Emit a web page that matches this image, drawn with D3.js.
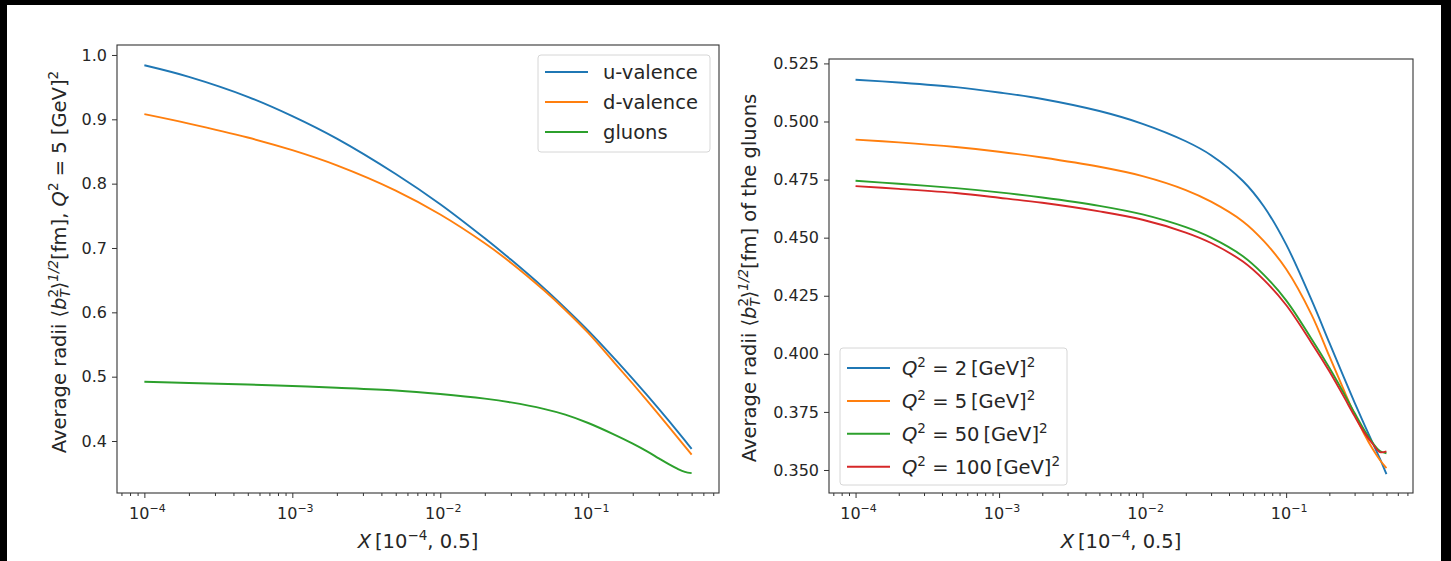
<!DOCTYPE html>
<html><head><meta charset="utf-8">
<script src="https://cdn.jsdelivr.net/npm/d3@7"></script>
<style>
body{margin:0;background:#000;}
svg{display:block}
text{font-family:"DejaVu Sans",sans-serif;fill:#262626}
</style>
</head><body>
<svg id="c" width="1451" height="561"></svg>
<script>
// ---------- data ----------
const xValues  = [1e-4, 2e-4, 5e-4, 1e-3, 2e-3, 5e-3, 1e-2, 2e-2, 3e-2, 5e-2, 0.07, 0.1, 0.15, 0.2, 0.25, 0.3, 0.35, 0.4, 0.45, 0.5];
const uValence = [0.984, 0.966, 0.935, 0.905, 0.870, 0.815, 0.768, 0.715, 0.682, 0.638, 0.6066, 0.5717, 0.5286, 0.4967, 0.4713, 0.4501, 0.4317, 0.4155, 0.4010, 0.3877];
const dValence = [0.908, 0.8934, 0.8717, 0.852, 0.8284, 0.7892, 0.752, 0.7073, 0.6772, 0.6346, 0.6037, 0.568, 0.522, 0.489, 0.4628, 0.4411, 0.4223, 0.4061, 0.3918, 0.3789];
const gluons   = [0.492, 0.4902, 0.4878, 0.4855, 0.4828, 0.4785, 0.4730, 0.4658, 0.4600, 0.4500, 0.4410, 0.4280, 0.4100, 0.3960, 0.3840, 0.3730, 0.3640, 0.3570, 0.3520, 0.3500];

const gQ2_2   = [0.5180, 0.5168, 0.5148, 0.5125, 0.5097, 0.5045, 0.4990, 0.4915, 0.4855, 0.4744, 0.4634, 0.4471, 0.4233, 0.4048, 0.3905, 0.3790, 0.3696, 0.3618, 0.3549, 0.3482];
const gQ2_5   = [0.4922, 0.4910, 0.4890, 0.4870, 0.4845, 0.4805, 0.4765, 0.4705, 0.4655, 0.4570, 0.4485, 0.4365, 0.4170, 0.3990, 0.3850, 0.3739, 0.3655, 0.3591, 0.3543, 0.3508];
const gQ2_50  = [0.4745, 0.4732, 0.4713, 0.4695, 0.4673, 0.4637, 0.4600, 0.4545, 0.4500, 0.4420, 0.4340, 0.4230, 0.4065, 0.3940, 0.3835, 0.3745, 0.3672, 0.3618, 0.3582, 0.3572];
const gQ2_100 = [0.4722, 0.4710, 0.4692, 0.4672, 0.4650, 0.4613, 0.4577, 0.4522, 0.4477, 0.4397, 0.4318, 0.4210, 0.4048, 0.3925, 0.3820, 0.3732, 0.3662, 0.3613, 0.3577, 0.3580];

const leftNames   = ["u-valence", "d-valence", "gluons"];
const rightQ2     = [2, 5, 50, 100];
const colors      = ["#1f77b4", "#ff7f0e", "#2ca02c", "#d62728"];
const yTicksLeft  = [0.4, 0.5, 0.6, 0.7, 0.8, 0.9, 1.0];
const yTicksRight = [0.350, 0.375, 0.400, 0.425, 0.450, 0.475, 0.500, 0.525];
const xTickExps   = [-4, -3, -2, -1];

// ---------- drawing ----------
const svg = d3.select("#c");
svg.append("rect").attr("x", 7).attr("y", 5).attr("width", 1434).attr("height", 556).attr("fill", "#fff");

const pad = Math.pow(10, 0.185);
const FS = 19.5, SUP = 13.5, TFS = 16;

function panel(o) {
  const x = d3.scaleLog().domain([1e-4 / pad, 0.5 * pad]).range([o.x0, o.x1]);
  const y = d3.scaleLinear().domain(o.yDomain).range([o.y1, o.y0]);
  const g = svg.append("g");

  const line = d3.line().x((d, i) => x(xValues[i])).y(d => y(d)).curve(d3.curveCatmullRom.alpha(0.5));
  o.series.forEach((s, k) => {
    g.append("path").attr("d", line(s)).attr("fill", "none")
      .attr("stroke", colors[k]).attr("stroke-width", 1.9).attr("stroke-linejoin", "round");
  });

  g.append("rect").attr("x", o.x0).attr("y", o.y0).attr("width", o.x1 - o.x0).attr("height", o.y1 - o.y0)
    .attr("fill", "none").attr("stroke", "#333").attr("stroke-width", 1.1);

  const ya = g.append("g").attr("transform", `translate(${o.x0},0)`)
    .call(d3.axisLeft(y).tickValues(o.yTicks).tickFormat(o.fmt).tickSize(5).tickPadding(5));
  ya.select(".domain").remove();
  ya.selectAll("line").attr("stroke", "#333");
  ya.selectAll("text").attr("font-size", TFS).attr("fill", "#262626").style("font-family", "DejaVu Sans");

  const xa = g.append("g").attr("transform", `translate(0,${o.y1})`)
    .call(d3.axisBottom(x).tickValues(xTickExps.map(e => Math.pow(10, e))).tickFormat("").tickSize(5));
  xa.select(".domain").remove();
  xa.selectAll("line").attr("stroke", "#333");
  const minors = [];
  for (let e = -5; e <= 0; e++) for (let m = 2; m <= 9; m++) {
    const v = m * Math.pow(10, e);
    if (v >= x.domain()[0] && v <= x.domain()[1]) minors.push(v);
  }
  const xm = g.append("g").attr("transform", `translate(0,${o.y1})`)
    .call(d3.axisBottom(x).tickValues(minors).tickFormat("").tickSize(3));
  xm.select(".domain").remove();
  xm.selectAll("line").attr("stroke", "#333");
  xTickExps.forEach(e => {
    const t = g.append("text").attr("x", x(Math.pow(10, e)) + 3).attr("y", o.y1 + 26)
      .attr("text-anchor", "middle").attr("font-size", TFS);
    t.append("tspan").text("10");
    t.append("tspan").attr("font-size", 11).attr("dy", -7).text("\u2212" + Math.abs(e));
  });

  const xl = g.append("text").attr("x", (o.x0 + o.x1) / 2).attr("y", o.y1 + 55)
    .attr("text-anchor", "middle").attr("font-size", FS);
  xl.append("tspan").attr("font-style", "italic").text("X");
  xl.append("tspan").text("\u2009[10");
  xl.append("tspan").attr("font-size", SUP).attr("dy", -8).text("\u22124");
  xl.append("tspan").attr("dy", 8).text(", 0.5]");

  const yl = g.append("text").attr("transform", `translate(${o.ylx},${o.ylc}) rotate(-90)`)
    .attr("text-anchor", "middle").attr("font-size", FS);
  yl.append("tspan").text("Average radii \u27E8");
  yl.append("tspan").attr("font-style", "italic").text("b");
  yl.append("tspan").attr("font-size", SUP).attr("dy", -8).text("2");
  yl.append("tspan").attr("font-size", SUP).attr("font-style", "italic").attr("dx", -8.6).attr("dy", 12).text("T");
  yl.append("tspan").attr("dy", -4).text("\u27E9");
  yl.append("tspan").attr("font-size", SUP).attr("dy", -8).attr("font-style", "italic").text("1/2");
  yl.append("tspan").attr("dy", 8).text("[fm]" + o.ySuffixA);
  if (o.q2) {
    yl.append("tspan").attr("font-style", "italic").text("Q");
    yl.append("tspan").attr("font-size", SUP).attr("dy", -8).text("2");
    yl.append("tspan").attr("dy", 8).text(" = 5 [GeV]");
    yl.append("tspan").attr("font-size", SUP).attr("dy", -8).text("2");
  }

  const L = o.legend;
  g.append("rect").attr("x", L.x).attr("y", L.y).attr("width", L.w).attr("height", L.h).attr("rx", 3)
    .attr("fill", "#fff").attr("fill-opacity", 0.8).attr("stroke", "#d6d6d6");
  L.labels.forEach((lab, k) => {
    const yy = L.y + L.first + k * L.step;
    g.append("line").attr("x1", L.x + 7).attr("x2", L.x + 50).attr("y1", yy).attr("y2", yy)
      .attr("stroke", colors[k]).attr("stroke-width", 2);
    const t = g.append("text").attr("x", L.x + L.tx).attr("y", yy + 7).attr("font-size", FS);
    lab(t);
  });
}

panel({
  x0: 117, x1: 719, y0: 45, y1: 493,
  yDomain: [0.3192, 1.0155], yTicks: yTicksLeft, fmt: d3.format(".1f"),
  series: [uValence, dValence, gluons],
  ylx: 66, ylc: 262, ySuffixA: ", ", q2: true,
  legend: { x: 538, y: 55, w: 172, h: 97, first: 17, step: 30, tx: 65,
    labels: leftNames.map(n => t => t.text(n)) }
});

panel({
  x0: 829, x1: 1413, y0: 59, y1: 493,
  yDomain: [0.3401, 0.5269], yTicks: yTicksRight, fmt: d3.format(".3f"),
  series: [gQ2_2, gQ2_5, gQ2_50, gQ2_100],
  ylx: 756, ylc: 278, ySuffixA: " of the gluons", q2: false,
  legend: { x: 840, y: 348, w: 227, h: 137, first: 20, step: 32.9, tx: 62,
    labels: rightQ2.map(q => t => {
      t.append("tspan").attr("font-style", "italic").text("Q");
      t.append("tspan").attr("font-size", SUP).attr("dy", -8).text("2");
      t.append("tspan").attr("dy", 8).text(" = " + q + "\u2009[GeV]");
      t.append("tspan").attr("font-size", SUP).attr("dy", -8).text("2");
    }) }
});
</script>
</body></html>
